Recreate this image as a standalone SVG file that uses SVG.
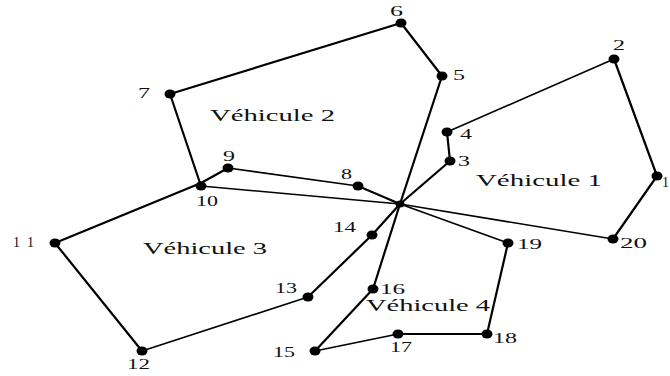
<svg xmlns="http://www.w3.org/2000/svg" width="670" height="376" viewBox="0 0 670 376">
<style>
.e{stroke:#000;stroke-width:2.2;fill:none;stroke-linecap:round}
.t{stroke-width:1.6}
.n{fill:#000}
.l{font-family:"Liberation Serif","Times New Roman",serif;font-size:14px;fill:#111}
.v{font-family:"Liberation Serif","Times New Roman",serif;font-size:17px;fill:#111}
</style>
<rect width="670" height="376" fill="#fff"/>
<g id="connectors">
<line class="e" x1="400" y1="204" x2="442" y2="76"/>
<line class="e" x1="442" y1="76" x2="401" y2="23"/>
<line class="e" x1="401" y1="23" x2="170" y2="94"/>
<line class="e" x1="170" y1="94" x2="201" y2="186"/>
<line class="e t" x1="201" y1="186" x2="400" y2="204"/>
<line class="e" x1="400" y1="204" x2="358" y2="186"/>
<line class="e t" x1="358" y1="186" x2="228" y2="168"/>
<line class="e" x1="228" y1="168" x2="201" y2="183"/>
<line class="e" x1="201" y1="183" x2="55" y2="243"/>
<line class="e" x1="55" y1="243" x2="142" y2="351"/>
<line class="e t" x1="142" y1="351" x2="308" y2="297"/>
<line class="e" x1="308" y1="297" x2="372" y2="235"/>
<line class="e" x1="372" y1="235" x2="400" y2="204"/>
<line class="e" x1="400" y1="204" x2="450" y2="161"/>
<line class="e" x1="450" y1="161" x2="447" y2="132"/>
<line class="e t" x1="447" y1="132" x2="614" y2="59"/>
<line class="e" x1="614" y1="59" x2="657" y2="176"/>
<line class="e" x1="657" y1="176" x2="613" y2="239"/>
<line class="e t" x1="613" y1="239" x2="400" y2="204"/>
<line class="e" x1="400" y1="204" x2="373" y2="289"/>
<line class="e" x1="373" y1="289" x2="315" y2="351"/>
<line class="e t" x1="315" y1="351" x2="398" y2="334"/>
<line class="e" x1="398" y1="334" x2="487" y2="334"/>
<line class="e" x1="487" y1="334" x2="508" y2="243"/>
<line class="e t" x1="508" y1="243" x2="400" y2="204"/>
</g>
<g id="depot"><ellipse class="n" cx="400" cy="204" rx="4.5" ry="3.5"/></g>
<g id="n1"><ellipse class="n" cx="657" cy="176" rx="5.5" ry="4.5"/><text class="l" x="662" y="187" font-size="13">1</text></g>
<g id="n2"><ellipse class="n" cx="614" cy="59" rx="5.5" ry="4.5"/><text class="l" x="613" y="50" textLength="12" lengthAdjust="spacingAndGlyphs">2</text></g>
<g id="n3"><ellipse class="n" cx="450" cy="161" rx="5.5" ry="4.5"/><text class="l" x="458" y="166" textLength="12" lengthAdjust="spacingAndGlyphs">3</text></g>
<g id="n4"><ellipse class="n" cx="447" cy="132" rx="5.5" ry="4.5"/><text class="l" x="460" y="139" textLength="12" lengthAdjust="spacingAndGlyphs">4</text></g>
<g id="n5"><ellipse class="n" cx="442" cy="76" rx="5.5" ry="4.5"/><text class="l" x="453" y="80" textLength="12" lengthAdjust="spacingAndGlyphs">5</text></g>
<g id="n6"><ellipse class="n" cx="401" cy="23" rx="5.5" ry="4.5"/><text class="l" x="390" y="16" textLength="13" lengthAdjust="spacingAndGlyphs">6</text></g>
<g id="n7"><ellipse class="n" cx="170" cy="94" rx="5.5" ry="4.5"/><text class="l" x="138" y="98" textLength="12" lengthAdjust="spacingAndGlyphs">7</text></g>
<g id="n8"><ellipse class="n" cx="358" cy="186" rx="5.5" ry="4.5"/><text class="l" x="341" y="179" textLength="11" lengthAdjust="spacingAndGlyphs">8</text></g>
<g id="n9"><ellipse class="n" cx="228" cy="168" rx="5.5" ry="4.5"/><text class="l" x="223" y="161" textLength="12" lengthAdjust="spacingAndGlyphs">9</text></g>
<g id="n10"><ellipse class="n" cx="201" cy="186" rx="5.5" ry="4.5"/><text class="l" x="196" y="206" textLength="22" lengthAdjust="spacingAndGlyphs">10</text></g>
<g id="n11"><ellipse class="n" cx="55" cy="243" rx="5.5" ry="4.5"/><text class="l" x="13" y="247" textLength="21" lengthAdjust="spacing">11</text></g>
<g id="n12"><ellipse class="n" cx="142" cy="351" rx="5.5" ry="4.5"/><text class="l" x="127" y="369" textLength="23" lengthAdjust="spacingAndGlyphs">12</text></g>
<g id="n13"><ellipse class="n" cx="308" cy="297" rx="5.5" ry="4.5"/><text class="l" x="275" y="293" textLength="22" lengthAdjust="spacingAndGlyphs">13</text></g>
<g id="n14"><ellipse class="n" cx="372" cy="235" rx="5.5" ry="4.5"/><text class="l" x="333" y="232" textLength="23" lengthAdjust="spacingAndGlyphs">14</text></g>
<g id="n15"><ellipse class="n" cx="315" cy="351" rx="5.5" ry="4.5"/><text class="l" x="273" y="357" textLength="22" lengthAdjust="spacingAndGlyphs">15</text></g>
<g id="n16"><ellipse class="n" cx="373" cy="289" rx="5.5" ry="4.5"/><text class="l" x="380" y="294" textLength="25" lengthAdjust="spacingAndGlyphs">16</text></g>
<g id="n17"><ellipse class="n" cx="398" cy="334" rx="5.5" ry="4.5"/><text class="l" x="390" y="352" textLength="22" lengthAdjust="spacingAndGlyphs">17</text></g>
<g id="n18"><ellipse class="n" cx="487" cy="334" rx="5.5" ry="4.5"/><text class="l" x="493" y="343" textLength="24" lengthAdjust="spacingAndGlyphs">18</text></g>
<g id="n19"><ellipse class="n" cx="508" cy="243" rx="5.5" ry="4.5"/><text class="l" x="517" y="249" textLength="25" lengthAdjust="spacingAndGlyphs">19</text></g>
<g id="n20"><ellipse class="n" cx="613" cy="239" rx="5.5" ry="4.5"/><text class="l" x="620" y="248" textLength="27" lengthAdjust="spacingAndGlyphs">20</text></g>
<g id="labels">
<text class="v" x="210" y="121" textLength="125" lengthAdjust="spacingAndGlyphs">Véhicule 2</text>
<text class="v" x="476" y="186" textLength="126" lengthAdjust="spacingAndGlyphs">Véhicule 1</text>
<text class="v" x="143" y="254" textLength="124" lengthAdjust="spacingAndGlyphs">Véhicule 3</text>
<text class="v" x="366" y="311" textLength="124" lengthAdjust="spacingAndGlyphs">Véhicule 4</text>
</g>
</svg>
